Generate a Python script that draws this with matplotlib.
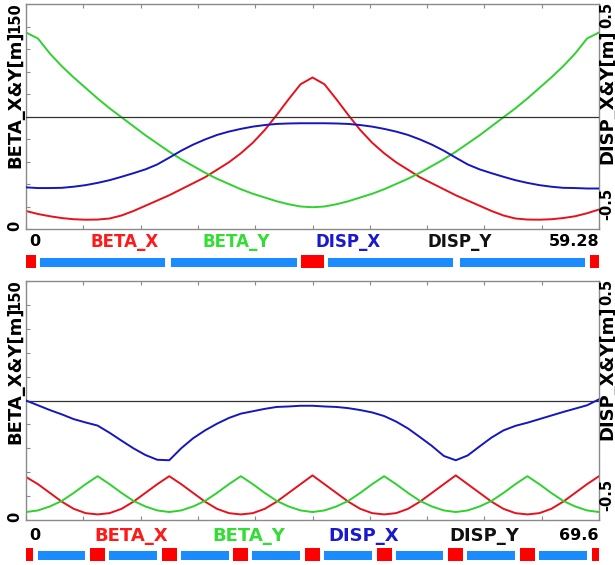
import matplotlib.pyplot as plt

W, H = 615, 565

# ---------------------------------------------------------------
# upper lattice, 0 .. 59.28 m
# ---------------------------------------------------------------
s_top = [0.0, 1.235, 2.47, 3.705, 4.94, 6.175, 7.41, 8.645, 9.88, 11.115,
         12.35, 13.585, 14.82, 16.055, 17.29, 18.525, 19.76, 20.995, 22.23,
         23.465, 24.7, 25.935, 27.17, 28.405, 29.64, 30.875, 32.11, 33.345,
         34.58, 35.815, 37.05, 38.285, 39.52, 40.755, 41.99, 43.225, 44.46,
         45.695, 46.93, 48.165, 49.4, 50.635, 51.87, 53.105, 54.34, 55.575,
         56.81, 58.045, 59.28]
betax_top = [12, 10, 8.5, 7.3, 6.5, 6.2, 6.3, 7.0, 9.0, 12.0, 15.5, 19.0, 22.5,
             26.5, 30.5, 34.5, 39.5, 44.5, 50.5, 57.5, 66.0, 76.0, 86.5, 96.5,
             101.0, 96.5, 86.5, 76.0, 66.0, 57.5, 50.5, 44.5, 39.5, 34.5, 30.5,
             26.5, 22.5, 19.0, 15.5, 12.0, 9.0, 7.0, 6.3, 6.2, 6.5, 7.3, 8.5,
             10.5, 13.0]
betay_top = [131, 127, 117, 108.5, 101, 94, 87, 80.5, 74.5, 68.5, 62.5, 57,
             51.5, 46.5, 42, 37.5, 33.5, 30, 26.5, 23.5, 21, 18.5, 16.5, 15,
             14.5, 15, 16.5, 18.5, 21, 23.5, 26.5, 30, 33.5, 37.5, 42, 46.5,
             51.5, 57, 62.5, 68.5, 74.5, 80.5, 87, 94, 101, 108.5, 117, 127, 131]
dispx_top = [-0.315, -0.318, -0.318, -0.317, -0.312, -0.305, -0.295, -0.283,
             -0.268, -0.252, -0.235, -0.213, -0.183, -0.152, -0.125, -0.102,
             -0.082, -0.067, -0.055, -0.045, -0.038, -0.033, -0.031, -0.030,
             -0.030, -0.030, -0.031, -0.033, -0.038, -0.045, -0.055, -0.067,
             -0.082, -0.102, -0.125, -0.152, -0.183, -0.213, -0.235, -0.252,
             -0.268, -0.283, -0.295, -0.305, -0.312, -0.317, -0.318, -0.320,
             -0.320]
dispy_top = [0.0, 0.0]
bends_top = [(0.0, 1.0), (28.5, 30.8), (58.3, 59.28)]
quads_top = [(1.4, 14.4), (15.05, 28.05), (31.2, 44.2), (44.85, 57.85)]

# ---------------------------------------------------------------
# lower lattice, 0 .. 69.6 m
# ---------------------------------------------------------------
s_bot = [0.0, 1.45, 2.9, 4.35, 5.8, 7.25, 8.7, 10.15, 11.6, 13.05, 14.5,
         15.95, 17.4, 18.85, 20.3, 21.75, 23.2, 24.65, 26.1, 27.55, 29.0,
         30.45, 31.9, 33.35, 34.8, 36.25, 37.7, 39.15, 40.6, 42.05, 43.5,
         44.95, 46.4, 47.85, 49.3, 50.75, 52.2, 53.65, 55.1, 56.55, 58.0,
         59.45, 60.9, 62.35, 63.8, 65.25, 66.7, 68.15, 69.6]
betax_bot = [27, 22.5, 17, 11.5, 7, 4.3, 3.5, 4.3, 7, 11.5, 17, 22.5,
             27.5, 22.5, 17, 11.5, 7, 4.3, 3.5, 4.3, 7, 11.5, 17, 22.5,
             28, 22.5, 17, 11.5, 7, 4.3, 3.5, 4.3, 7, 11.5, 17, 22.5,
             28, 22.5, 17, 11.5, 7, 4.3, 3.5, 4.3, 7, 11.5, 17, 22.5, 27.5]
betay_bot = [5, 6, 8.5, 12, 17, 22.5, 27.5, 22.5, 17, 12, 8.5, 6,
             5, 6, 8.5, 12, 17, 22.5, 27.5, 22.5, 17, 12, 8.5, 6,
             5, 6, 8.5, 12, 17, 22.5, 27.5, 22.5, 17, 12, 8.5, 6,
             5, 6, 8.5, 12, 17, 22.5, 27.5, 22.5, 17, 12, 8.5, 6, 5]
dispx_bot = [0.0, -0.02, -0.04, -0.058, -0.078, -0.092, -0.105, -0.135, -0.168,
             -0.2, -0.228, -0.248, -0.25, -0.2, -0.158, -0.125, -0.097, -0.073,
             -0.055, -0.045, -0.035, -0.027, -0.025, -0.022, -0.022, -0.025,
             -0.027, -0.032, -0.04, -0.05, -0.065, -0.088, -0.117, -0.153,
             -0.19, -0.232, -0.25, -0.23, -0.192, -0.155, -0.125, -0.106,
             -0.093, -0.078, -0.063, -0.048, -0.034, -0.02, 0.005]
dispy_bot = [0.0, 0.0]
bends_bot = [(0.0, 0.9), (7.8, 9.6), (16.5, 18.3), (25.2, 27.0), (33.9, 35.7),
             (42.6, 44.4), (51.3, 53.1), (60.0, 61.8), (68.7, 69.6)]
quads_bot = [(1.4, 7.2), (10.1, 15.9), (18.8, 24.6), (27.5, 33.3),
             (36.2, 42.0), (44.9, 50.7), (53.6, 59.4), (62.3, 68.1)]

beta_max = 150
disp_lim = (-0.5, 0.5)
names = ["BETA_X", "BETA_Y", "DISP_X", "DISP_Y"]

line_colors = ["#e8101a", "#2fd12f", "#1616c0", "#333333"]
text_colors = ["#ff1a1a", "#33dd33", "#1a1acc", "#111111"]
bend_color = "#ff0000"
quad_color = "#1a8cff"
frame_color = "#8a8a8a"


def fx(x):
    return x / W


def fy(y):
    return 1 - y / H


def panel(fig, y0, y1, s, bx, by, dx, dy, bends, quads, end_label,
          row_y, name_x, row_size, bar_y):
    ax = fig.add_axes([fx(26), fy(y1), fx(599) - fx(26), fy(y0) - fy(y1)])
    smax = s[-1]
    ax.plot(s, bx, color=line_colors[0], lw=1.4)
    ax.plot(s, by, color=line_colors[1], lw=1.4)
    ax.set_xlim(0, smax)
    ax.set_ylim(0, beta_max)
    ax.set_xticks([smax * i / 10 for i in range(11)])
    ax.set_yticks([beta_max * i / 10 for i in range(11)])
    ax.tick_params(direction="in", length=3, width=0.8, color=frame_color,
                   top=True, right=True, labelbottom=False, labelleft=False)
    for sp in ax.spines.values():
        sp.set_color(frame_color)
        sp.set_linewidth(1.0)

    ax2 = ax.twinx()
    ax2.plot([0, smax], dy, color=line_colors[3], lw=0.9)
    ax2.plot(s, dx, color=line_colors[2], lw=1.4)
    ax2.set_ylim(*disp_lim)
    ax2.set_yticks([])
    for sp in ax2.spines.values():
        sp.set_visible(False)

    bold = dict(fontweight="bold", family="DejaVu Sans")
    # left axis texts
    fig.text(fx(15), fy(y0 - 2), str(beta_max), rotation=90, ha="center",
             va="top", fontsize=10.5, **bold)
    fig.text(fx(15), fy(y0 + 26), "BETA_X&Y[m]", rotation=90, ha="center",
             va="top", fontsize=13, **bold)
    fig.text(fx(15), fy(y1 + 2), "0", rotation=90, ha="center",
             va="bottom", fontsize=10.5, **bold)
    # right axis texts
    fig.text(fx(607), fy(y0 - 2), "0.5", rotation=90, ha="center",
             va="top", fontsize=10.5, **bold)
    fig.text(fx(607), fy(y0 + 25), "DISP_X&Y[m]", rotation=90, ha="center",
             va="top", fontsize=13, **bold)
    fig.text(fx(607), fy(y1 - 9), "-0.5", rotation=90, ha="center",
             va="bottom", fontsize=10.5, **bold)

    # bottom row: range and legend
    fig.text(fx(29), fy(row_y), "0", ha="left", va="center",
             fontsize=11.5, **bold)
    fig.text(fx(599), fy(row_y), end_label, ha="right", va="center",
             fontsize=11.5, **bold)
    for name, col, xc in zip(names, text_colors, name_x):
        fig.text(fx(xc), fy(row_y), name, ha="center", va="center",
                 color=col, fontsize=row_size, **bold)

    # magnet lattice strip
    bar = fig.add_axes([fx(26), fy(bar_y + 15), fx(599) - fx(26), 15 / H])
    bar.set_xlim(0, smax)
    bar.set_ylim(0, 15)
    bar.axis("off")
    for a, b in quads:
        bar.bar(a, 9, width=b - a, bottom=2, align="edge", color=quad_color,
                clip_on=False)
    for a, b in bends:
        bar.bar(a, 13, width=b - a, bottom=1, align="edge", color=bend_color,
                clip_on=False)
    return ax


fig = plt.figure(figsize=(W / 100, H / 100), dpi=100)

panel(fig, 4, 229, s_top, betax_top, betay_top, dispx_top, dispy_top,
      bends_top, quads_top, "59.28", 242, [125, 236, 348, 460], 12, 254)
panel(fig, 281, 520, s_bot, betax_bot, betay_bot, dispx_bot, dispy_bot,
      bends_bot, quads_bot, "69.6", 536, [131, 249, 364, 484], 13, 547)

fig.savefig("out.png", dpi=100)
